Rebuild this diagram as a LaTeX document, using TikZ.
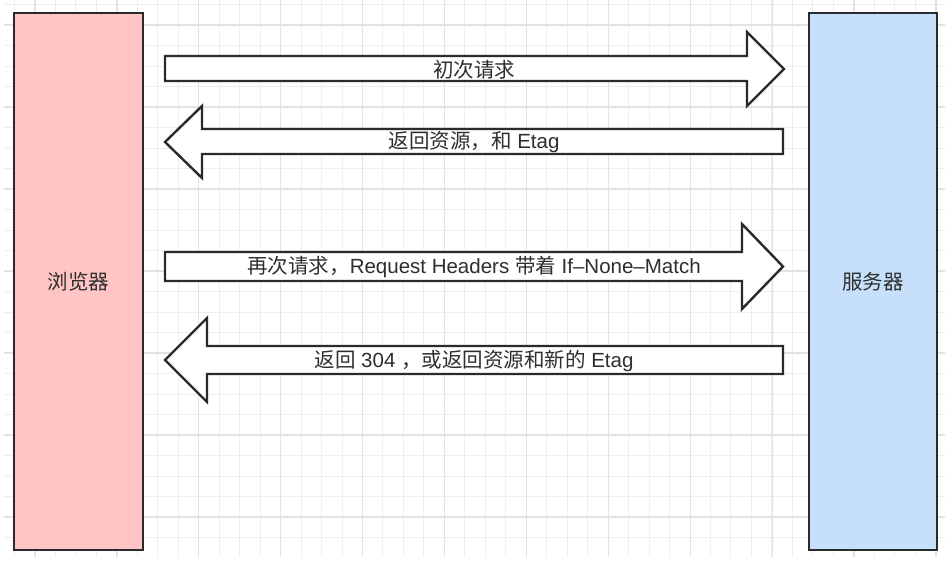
\documentclass[tikz,border=0pt]{standalone}
\usepackage{fontspec}
\setmainfont{Noto Sans CJK SC}
\newfontfamily\lat{Liberation Sans}
\definecolor{gridminor}{HTML}{EEEEEE}
\definecolor{gridmajor}{HTML}{E2E2E2}
\definecolor{pinkfill}{HTML}{FFC4C4}
\definecolor{bluefill}{HTML}{C6E0FC}
\definecolor{edge}{HTML}{2A2A2A}
\begin{document}
\begin{tikzpicture}[x=1pt,y=-1pt,
  box/.style={draw=edge,line width=2.4pt,inner sep=0pt},
  bigarrow/.style={draw=edge,fill=white,line width=2.4pt,line join=miter},
  lbl/.style={font=\fontsize{20.5}{24}\selectfont,text=black!82,inner sep=0pt,anchor=center}]
\useasboundingbox (0,0) rectangle (951,563);
\fill[white] (0,0) rectangle (951,563);
% grid
\begin{scope}
\clip (4,0) rectangle (945,557);
\foreach \k in {0,...,46} {
  \pgfmathsetmacro\xx{14.5+\k*20.47}
  \draw[gridminor,line width=1pt] (\xx,0) -- (\xx,557);
}
\foreach \k in {0,...,27} {
  \pgfmathsetmacro\yy{4.5+\k*20.5}
  \draw[gridminor,line width=1pt] (4,\yy) -- (945,\yy);
}
\foreach \k in {0,...,11} {
  \pgfmathsetmacro\xx{35+\k*81.9}
  \draw[gridmajor,line width=1.2pt] (\xx,0) -- (\xx,557);
}
\foreach \k in {0,...,6} {
  \pgfmathsetmacro\yy{25+\k*82}
  \draw[gridmajor,line width=1.2pt] (4,\yy) -- (945,\yy);
}
\end{scope}
% boxes
\node[box,fill=pinkfill,minimum width=129pt,minimum height=537pt] (browser) at (78.5,281.5) {};
\node[lbl] (browserlbl) at (browser.center) {浏览器};
\node[box,fill=bluefill,minimum width=128pt,minimum height=537pt] (server) at (873,281.5) {};
\node[lbl] (serverlbl) at (server.center) {服务器};
% arrows
\draw[bigarrow] (165,56) -- (747,56) -- (747,32) -- (784,69) -- (747,106) -- (747,81) -- (165,81) -- cycle;
\node[lbl] (a1) at (474,69.5) {初次请求};
\draw[bigarrow] (783,129) -- (202,129) -- (202,106) -- (165,142) -- (202,178) -- (202,154) -- (783,154) -- cycle;
\node[lbl] (a2) at (474,142) {返回资源，和{\lat\ Etag}};
\draw[bigarrow] (165,252) -- (742,252) -- (742,224) -- (783,266.5) -- (742,309) -- (742,281) -- (165,281) -- cycle;
\node[lbl] (a3) at (474,267) {再次请求，{\lat Request Headers\ }带着{\lat\ If–None–Match}};
\draw[bigarrow] (783,346) -- (207,346) -- (207,318) -- (165,360) -- (207,402) -- (207,374) -- (783,374) -- cycle;
\node[lbl] (a4) at (474,360.5) {返回{\lat\ 304 }，或返回资源和新的{\lat\ Etag}};
\end{tikzpicture}
\end{document}
